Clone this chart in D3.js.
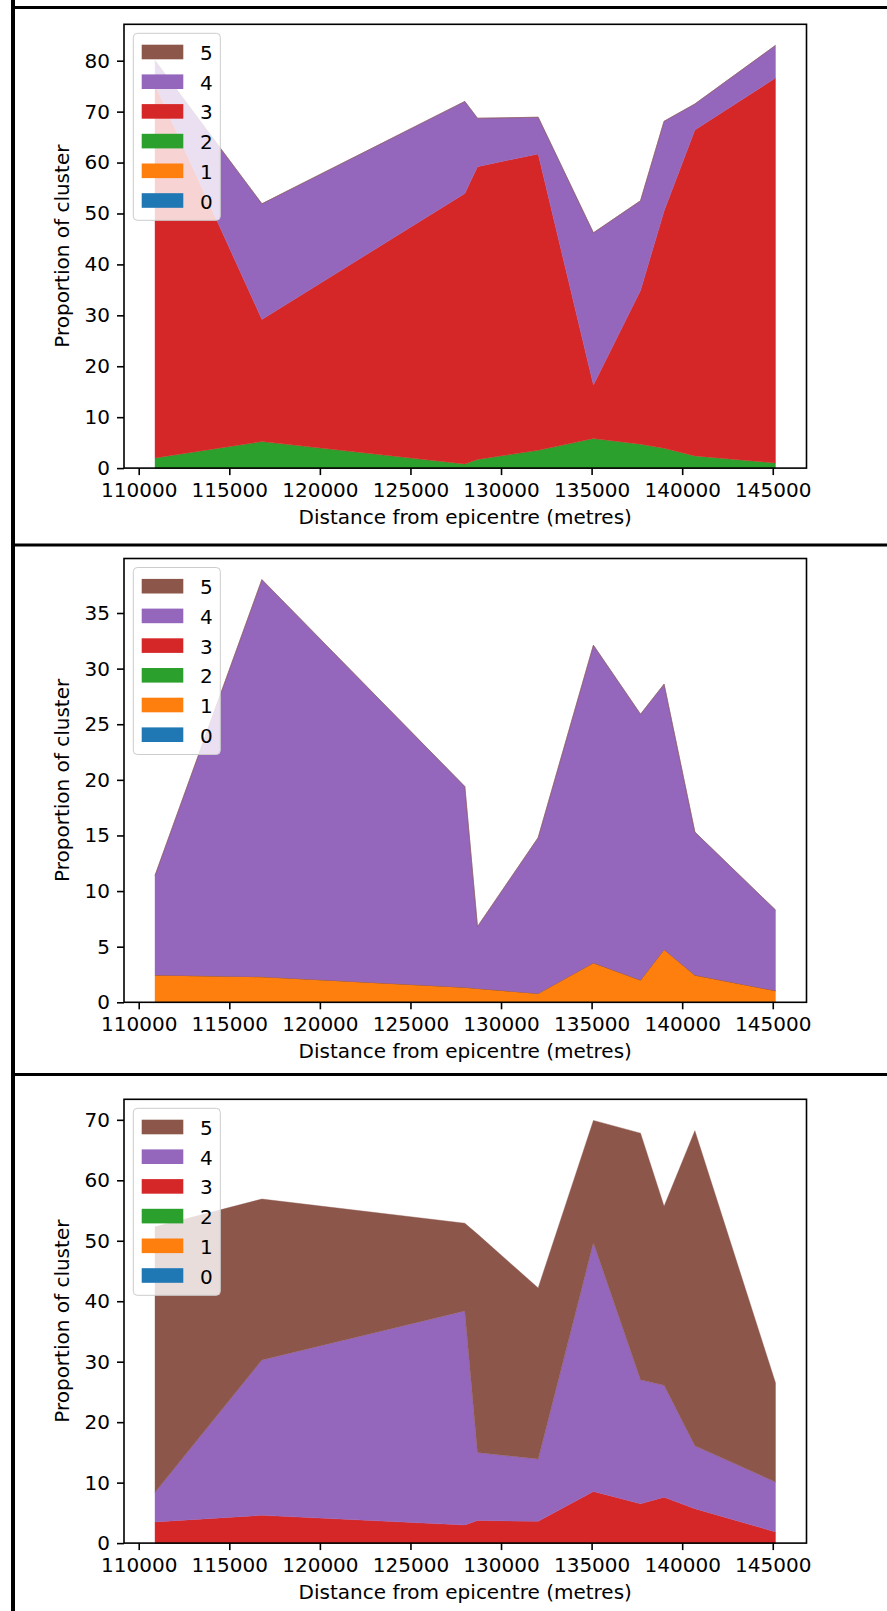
<!DOCTYPE html>
<html>
<head>
<meta charset="utf-8">
<script src="https://cdn.jsdelivr.net/npm/d3@7"></script>
<style>
  body { margin: 0; background: #fff; }
  svg { display: block; font-family: "DejaVu Sans", sans-serif; }
  .axis text { font-size: 20px; fill: #000; font-family: "DejaVu Sans", sans-serif; }
  .axis line { stroke: #000; stroke-width: 1.6px; }
  .axis-title { font-size: 20px; fill: #000; }
  .legend-label { font-size: 20px; fill: #000; }
</style>
</head>
<body>
<svg id="figure" width="887" height="1611"></svg>
<script>
// Distances (metres) shared by all three panels
const distances = [110900, 116800, 128000, 128700, 132050, 135100, 137700, 139000, 140700, 145150];

const clusterKeys = ["0", "1", "2", "3", "4", "5"];
const clusterColours = ["#1f77b4", "#ff7f0e", "#2ca02c", "#d62728", "#9467bd", "#8c564b"];

// empty cluster (nothing at any distance)
const noCluster = [0, 0, 0, 0, 0, 0, 0, 0, 0, 0];

// top panel
const panel1Cluster2 = [2.0, 5.2, 0.8, 1.7, 3.5, 5.8, 4.7, 3.9, 2.4, 1.0];
const panel1Cluster3 = [73.3, 24.0, 53.1, 57.5, 58.2, 10.5, 30.2, 46.6, 64.0, 75.6];
const panel1Cluster4 = [4.7, 22.7, 18.1, 9.5, 7.2, 29.9, 17.6, 17.6, 5.1, 6.4];

// middle panel
const panel2Cluster1 = [2.45, 2.3, 1.35, 1.25, 0.8, 3.55, 2.0, 4.75, 2.45, 1.05];
const panel2Cluster4 = [8.95, 35.7, 18.05, 5.55, 14.0, 28.55, 23.9, 23.85, 12.85, 7.25];

// bottom panel
const panel3Cluster3 = [3.5, 4.6, 3.0, 3.75, 3.6, 8.55, 6.5, 7.6, 5.7, 1.85];
const panel3Cluster4 = [4.9, 25.7, 35.4, 11.25, 10.3, 41.15, 20.5, 18.5, 10.4, 8.25];
const panel3Cluster5 = [43.9, 26.6, 14.5, 36.1, 28.3, 20.2, 40.8, 29.6, 52.1, 16.4];


class StackedAreaChart {
  constructor(_config, _series) {
    this.config = {
      parentElement: _config.parentElement,
      left: _config.left || 124,
      top: _config.top || 24,
      width: _config.width || 682.5,
      height: _config.height || 443.8
    };
    this.series = _series;   // one array per cluster, in clusterKeys order
    this.initVis();
  }

  initVis() {
    let vis = this;

    vis.chart = d3.select(vis.config.parentElement).append('g')
      .attr('transform', `translate(${vis.config.left},${vis.config.top})`);

    // matplotlib style 5% margins on x, sticky zero on y
    const xExt = d3.extent(distances);
    const xPad = (xExt[1] - xExt[0]) * 0.05;
    vis.xScale = d3.scaleLinear()
      .domain([xExt[0] - xPad, xExt[1] + xPad])
      .range([0, vis.config.width]);

    vis.yScale = d3.scaleLinear()
      .range([vis.config.height, 0]);

    vis.stack = d3.stack().keys(clusterKeys);

    vis.area = d3.area()
      .x(d => vis.xScale(d.data.distance))
      .y0(d => vis.yScale(d[0]))
      .y1(d => vis.yScale(d[1]));

    vis.updateVis();
  }

  updateVis() {
    let vis = this;

    vis.rows = distances.map((dist, i) => {
      const row = { distance: dist };
      clusterKeys.forEach((k, j) => { row[k] = vis.series[j][i]; });
      return row;
    });
    vis.stacked = vis.stack(vis.rows);

    const maxTotal = d3.max(vis.stacked[vis.stacked.length - 1], d => d[1]);
    vis.yScale.domain([0, maxTotal * 1.05]);

    vis.renderVis();
  }

  renderVis() {
    let vis = this;
    const w = vis.config.width, h = vis.config.height;

    vis.chart.selectAll('.layer')
      .data(vis.stacked)
      .join('path')
        .attr('class', 'layer')
        .attr('d', vis.area)
        .attr('fill', (d, i) => clusterColours[i])
        .attr('stroke', (d, i) => clusterColours[i])
        .attr('stroke-width', 0.4);

    // axes
    const xAxis = d3.axisBottom(vis.xScale)
      .ticks(8)
      .tickFormat(d3.format('d'))
      .tickSize(7)
      .tickPadding(8);
    const yAxis = d3.axisLeft(vis.yScale)
      .ticks(10)
      .tickFormat(d3.format('d'))
      .tickSize(7)
      .tickPadding(7);

    const xg = vis.chart.append('g')
      .attr('class', 'axis')
      .attr('transform', `translate(0,${h})`)
      .call(xAxis);
    xg.select('.domain').remove();

    const yg = vis.chart.append('g')
      .attr('class', 'axis')
      .call(yAxis);
    yg.select('.domain').remove();
    yg.selectAll('text').attr('dy', '0.32em');

    // frame
    vis.chart.append('rect')
      .attr('width', w)
      .attr('height', h)
      .attr('fill', 'none')
      .attr('stroke', '#000')
      .attr('stroke-width', 1.6);

    vis.chart.append('text')
      .attr('class', 'axis-title')
      .attr('x', w / 2)
      .attr('y', h + 56)
      .attr('text-anchor', 'middle')
      .text('Distance from epicentre (metres)');

    vis.chart.append('text')
      .attr('class', 'axis-title')
      .attr('transform', `translate(-55,${h / 2}) rotate(-90)`)
      .attr('text-anchor', 'middle')
      .text('Proportion of cluster');

    // legend, top-left, highest cluster first
    const legend = vis.chart.append('g')
      .attr('class', 'legend')
      .attr('transform', 'translate(9.3,9)');

    legend.append('rect')
      .attr('width', 87)
      .attr('height', 187)
      .attr('rx', 4)
      .attr('fill', '#fff')
      .attr('fill-opacity', 0.8)
      .attr('stroke', '#cccccc')
      .attr('stroke-width', 1);

    const items = legend.selectAll('.legend-item')
      .data(clusterKeys.slice().reverse())
      .join('g')
        .attr('class', 'legend-item')
        .attr('transform', (d, i) => `translate(0,${i * 29.7})`);

    items.append('rect')
      .attr('x', 8.4)
      .attr('y', 11.4)
      .attr('width', 41.6)
      .attr('height', 14.6)
      .attr('fill', d => clusterColours[+d]);

    items.append('text')
      .attr('class', 'legend-label')
      .attr('x', 66.7)
      .attr('y', 26.8)
      .text(d => d);
  }
}


const svg = d3.select('#figure');
svg.append('rect').attr('width', 887).attr('height', 1611).attr('fill', '#fff');

new StackedAreaChart({ parentElement: '#figure', top: 24.3 },
  [noCluster, noCluster, panel1Cluster2, panel1Cluster3, panel1Cluster4, noCluster]);
new StackedAreaChart({ parentElement: '#figure', top: 558.5 },
  [noCluster, panel2Cluster1, noCluster, noCluster, panel2Cluster4, noCluster]);
new StackedAreaChart({ parentElement: '#figure', top: 1099.3 },
  [noCluster, noCluster, noCluster, panel3Cluster3, panel3Cluster4, panel3Cluster5]);

// black rules framing the stacked screenshots
svg.append('rect').attr('x', 11).attr('y', 0).attr('width', 4).attr('height', 1611).attr('fill', '#000');
[6, 543.5, 1073].forEach(y => {
  svg.append('rect').attr('x', 11).attr('y', y).attr('width', 876).attr('height', 3).attr('fill', '#000');
});
</script>
</body>
</html>
